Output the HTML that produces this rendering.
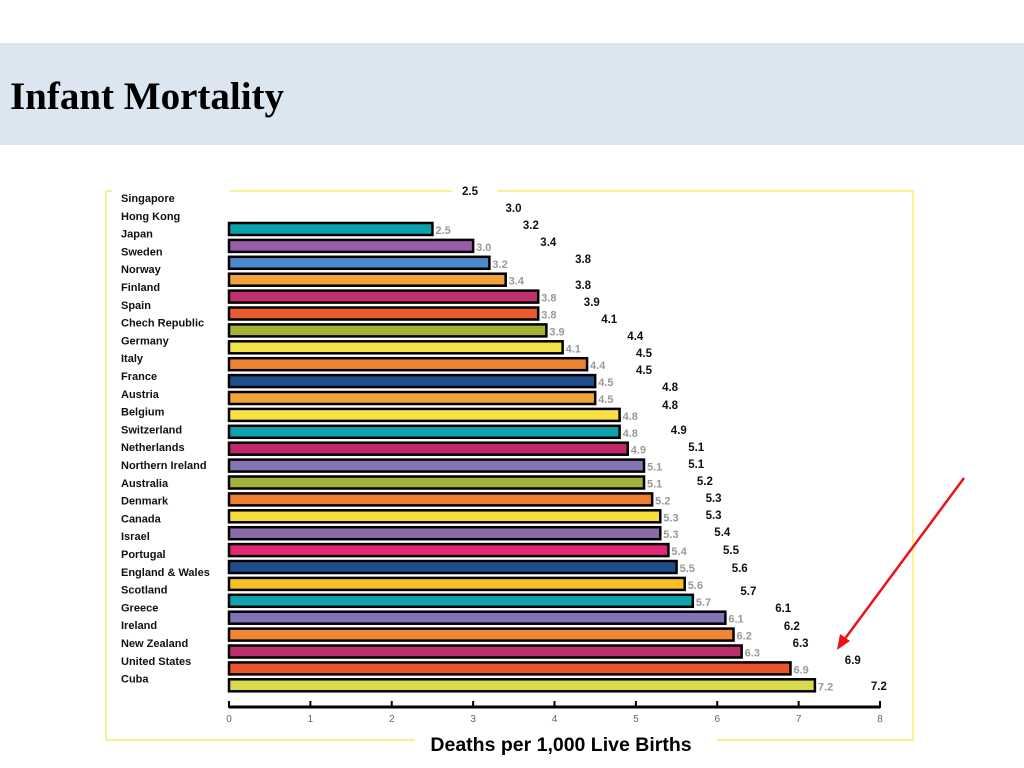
<!DOCTYPE html>
<html><head><meta charset="utf-8"><style>
html,body{margin:0;padding:0;background:#fff;width:1024px;height:768px;overflow:hidden}
#hdr{position:absolute;left:0;top:43px;width:1024px;height:102px;background:#dce6f0}
#title{position:absolute;left:10px;top:74px;font:bold 39px "Liberation Serif",serif;color:#000;margin:0}
svg{position:absolute;left:0;top:0}
</style></head><body>
<div id="hdr"></div>
<h1 id="title">Infant Mortality</h1>
<svg id="chart" width="1024" height="768"></svg>
<script>
const countries=["Singapore","Hong Kong","Japan","Sweden","Norway","Finland","Spain","Chech Republic","Germany","Italy","France","Austria","Belgium","Switzerland","Netherlands","Northern Ireland","Australia","Denmark","Canada","Israel","Portugal","England & Wales","Scotland","Greece","Ireland","New Zealand","United States","Cuba"];
const values=[2.5,3.0,3.2,3.4,3.8,3.8,3.9,4.1,4.4,4.5,4.5,4.8,4.8,4.9,5.1,5.1,5.2,5.3,5.3,5.4,5.5,5.6,5.7,6.1,6.2,6.3,6.9,7.2];
const valueLabels=["2.5","3.0","3.2","3.4","3.8","3.8","3.9","4.1","4.4","4.5","4.5","4.8","4.8","4.9","5.1","5.1","5.2","5.3","5.3","5.4","5.5","5.6","5.7","6.1","6.2","6.3","6.9","7.2"];
const ticks=[0,1,2,3,4,5,6,7,8];
const colors=["#0aa3ad","#9b5aab","#4c88cc","#f2a23e","#c0316d","#e85a30","#a6b034","#f2e24a","#f0842e","#1f4f8a","#f2a536","#f6e044","#0ea2ad","#c0286a","#8474b4","#a2b13e","#f07e30","#f4dc3a","#8a6cab","#e42474","#1f4f8a","#f6c024","#0ea4b0","#8272b8","#f08634","#bc306c","#e8562e","#d9d84e"];
const rightY=[191,208,225,242,259,285,302,319,336,353,370,387,405,430,447,464,481,498,515,532,550,568,591,608,626,643,660,686];
const NS="http://www.w3.org/2000/svg";
const svg=document.getElementById('chart');
function mk(t,a,txt){const e=document.createElementNS(NS,t);for(const k in a)e.setAttribute(k,a[k]);if(txt!=null)e.textContent=txt;svg.appendChild(e);return e;}
const x0=229,x1=880;
function xs(v){return x0+(v/8)*(x1-x0);}
function yc(i){return 229+i*16.9;}
let f;
f=mk('path',{d:"M106 191 H112 M230 191 H452 M497 191 H913 V740 H717 M415 740 H106 V191",stroke:"#f8f094",'stroke-width':2,fill:"none"});

countries.forEach((c,i)=>{const t=mk('text',{x:121,y:202+i*17.8,'font-family':'Liberation Sans, sans-serif','font-size':11,'font-weight':'bold',fill:'#111'},c);
});
values.forEach((v,i)=>{const y=yc(i);
const r=mk('rect',{x:x0,y:y-6,width:xs(values[i])-x0,height:12,fill:colors[i%colors.length],stroke:'#000','stroke-width':2.5});

const t=mk('text',{x:xs(v)+3,y:y+5,'font-family':'Liberation Sans, sans-serif','font-size':11,'font-weight':'bold',fill:'#999'},valueLabels[i]);

const rt=mk('text',{x:470+(v-2.5)*87,y:rightY[i]+4,'text-anchor':'middle','font-family':'Liberation Sans, sans-serif','font-size':11.5,'font-weight':'bold',fill:'#111'},valueLabels[i]);
});
const ax=mk('line',{x1:x0,y1:707,x2:x1,y2:707,stroke:'#000','stroke-width':3});

ticks.forEach(t=>{const l=mk('line',{x1:xs(t),y1:701,x2:xs(t),y2:708,stroke:'#000','stroke-width':2});

const tl=mk('text',{x:xs(t),y:722,'text-anchor':'middle','font-family':'Liberation Sans, sans-serif','font-size':10,fill:'#666'},String(t));
});
const xt=mk('text',{x:561,y:751,'text-anchor':'middle','font-family':'Liberation Sans, sans-serif','font-size':19.5,'font-weight':'bold',fill:'#000'},'Deaths per 1,000 Live Births');

const ar=mk('line',{x1:964,y1:478,x2:844,y2:640,stroke:'#e8141a','stroke-width':2.5});

const ah=mk('polygon',{points:'837,650 840,634 850,641',fill:'#e8141a'});

</script>
</body></html>
